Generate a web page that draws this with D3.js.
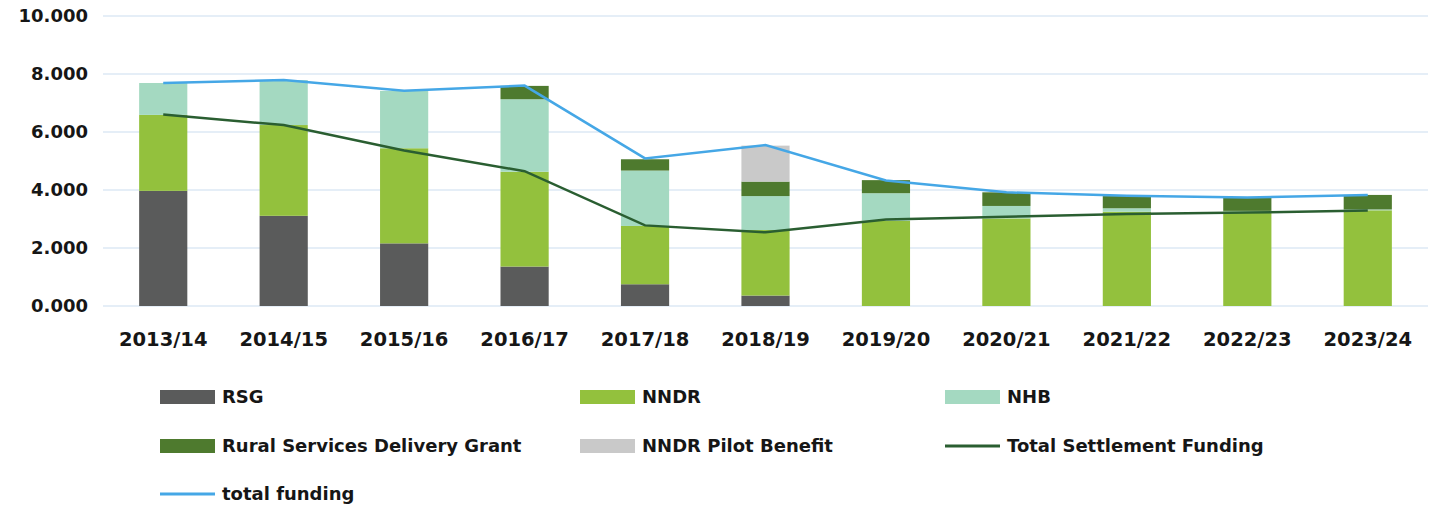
<!DOCTYPE html>
<html>
<head>
<meta charset="utf-8">
<script src="https://cdn.jsdelivr.net/npm/d3@7"></script>
<style>
  body { margin: 0; background: #fff; }
  text { font-family: "DejaVu Sans", Verdana, sans-serif; font-weight: bold; fill: #161616; }
</style>
</head>
<body>
<script>
// categories and series (values in £m)
const years = ["2013/14", "2014/15", "2015/16", "2016/17", "2017/18", "2018/19",
               "2019/20", "2020/21", "2021/22", "2022/23", "2023/24"];
const rsg   = [3.97, 3.11, 2.16, 1.36, 0.75, 0.36, 0, 0, 0, 0, 0];
const nndr  = [2.62, 3.13, 3.28, 3.27, 2.01, 2.26, 2.94, 3.02, 3.25, 3.26, 3.30];
const nhb   = [1.10, 1.55, 1.98, 2.50, 1.91, 1.17, 0.95, 0.43, 0.12, 0.02, 0.03];
const rsdg  = [0, 0, 0, 0.46, 0.39, 0.50, 0.45, 0.47, 0.42, 0.47, 0.50];
const pilot = [0, 0, 0, 0, 0, 1.24, 0, 0, 0, 0, 0];
const totalSettlement = [6.60, 6.24, 5.36, 4.65, 2.78, 2.54, 2.98, 3.08, 3.17, 3.22, 3.29];
const totalFunding    = [7.69, 7.79, 7.42, 7.60, 5.09, 5.55, 4.33, 3.92, 3.80, 3.74, 3.83];
const yTicks = [0, 2, 4, 6, 8, 10];

const barKeys   = ["RSG", "NNDR", "NHB", "Rural Services Delivery Grant", "NNDR Pilot Benefit"];
const barSeries = [rsg, nndr, nhb, rsdg, pilot];
const barColors = ["#5a5b5b", "#93c13d", "#a4d9c1", "#4e7a2e", "#c9c9c9"];

const W = 1438, H = 508;
const margin = {top: 16, right: 10, bottom: 202, left: 103};
const width = W - margin.left - margin.right,
      height = H - margin.top - margin.bottom;

const svg = d3.select("body").append("svg")
    .attr("width", W).attr("height", H);
const g = svg.append("g")
    .attr("transform", `translate(${margin.left},${margin.top})`);

const x = d3.scaleBand().domain(years).range([0, width])
    .paddingInner(0.6).paddingOuter(0.3);
const y = d3.scaleLinear().domain([0, 10]).range([height, 0]);

// gridlines
g.append("g").selectAll("line")
  .data(yTicks)
  .join("line")
    .attr("x1", 0).attr("x2", width)
    .attr("y1", d => y(d)).attr("y2", d => y(d))
    .attr("stroke", "#dde9f4").attr("stroke-width", 1.5);

// y axis labels
const yAxis = g.append("g")
    .call(d3.axisLeft(y).tickValues(yTicks).tickFormat(d3.format(".3f")).tickSize(0).tickPadding(15));
yAxis.select(".domain").remove();
yAxis.selectAll("text").attr("font-size", 18).style("font-family", null);

// x axis labels
const xAxis = g.append("g")
    .attr("transform", `translate(0,${height})`)
    .call(d3.axisBottom(x).tickSize(0).tickPadding(26));
xAxis.select(".domain").remove();
xAxis.selectAll("text").attr("font-size", 19.5).style("font-family", null);

// stacked bars
const table = years.map((yr, i) => {
  const row = {year: yr};
  barKeys.forEach((k, j) => row[k] = barSeries[j][i]);
  return row;
});
const stack = d3.stack().keys(barKeys)(table);

g.append("g").selectAll("g")
  .data(stack)
  .join("g")
    .attr("fill", (d, i) => barColors[i])
  .selectAll("rect")
  .data(d => d)
  .join("rect")
    .attr("x", d => x(d.data.year))
    .attr("width", x.bandwidth())
    .attr("y", d => y(d[1]))
    .attr("height", d => y(d[0]) - y(d[1]));

// lines
const line = d3.line()
    .x((d, i) => x(years[i]) + x.bandwidth() / 2)
    .y(d => y(d));

g.append("path")
    .datum(totalSettlement)
    .attr("fill", "none")
    .attr("stroke", "#2a5e31")
    .attr("stroke-width", 2.5)
    .attr("d", line);

g.append("path")
    .datum(totalFunding)
    .attr("fill", "none")
    .attr("stroke", "#45a7e6")
    .attr("stroke-width", 2.5)
    .attr("d", line);

// legend
const legendItems = [
  {name: "RSG", color: barColors[0], type: "rect"},
  {name: "NNDR", color: barColors[1], type: "rect"},
  {name: "NHB", color: barColors[2], type: "rect"},
  {name: "Rural Services Delivery Grant", color: barColors[3], type: "rect"},
  {name: "NNDR Pilot Benefit", color: barColors[4], type: "rect"},
  {name: "Total Settlement Funding", color: "#2a5e31", type: "line"},
  {name: "total funding", color: "#45a7e6", type: "line"}
];
const colX = [160, 580, 945];
const rowY = [397, 446, 494];

const legend = svg.append("g").selectAll("g")
  .data(legendItems)
  .join("g")
    .attr("transform", (d, i) => `translate(${colX[i % 3]},${rowY[Math.floor(i / 3)]})`);

legend.filter(d => d.type === "rect").append("rect")
    .attr("x", 0).attr("y", -7).attr("width", 55).attr("height", 14)
    .attr("fill", d => d.color);
legend.filter(d => d.type === "line").append("line")
    .attr("x1", 0).attr("x2", 55).attr("y1", 0).attr("y2", 0)
    .attr("stroke", d => d.color).attr("stroke-width", 3);
legend.append("text")
    .attr("x", 62).attr("y", 0).attr("dy", "0.35em")
    .attr("font-size", 18)
    .text(d => d.name);
</script>
</body>
</html>
